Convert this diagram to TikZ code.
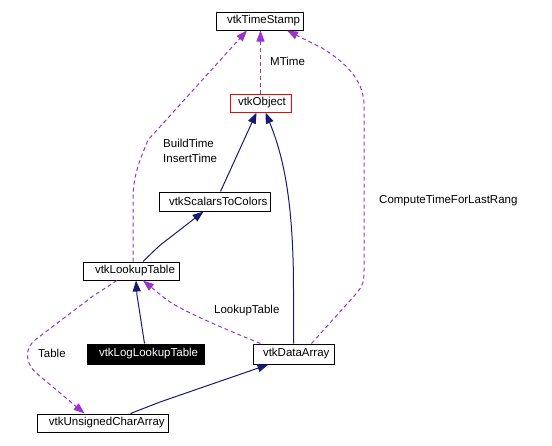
\documentclass[tikz,border=0pt]{standalone}
\usepackage{fontspec}
\setmainfont{Liberation Sans}
\usetikzlibrary{arrows.meta,calc}
\definecolor{navy}{HTML}{191970}
\definecolor{purp}{HTML}{9A32CD}
\begin{document}
\begin{tikzpicture}[x=1pt,y=-1pt,
  cls/.style={draw, line width=1pt, inner sep=0pt, minimum height=18pt, align=left, font=\fontsize{11.5}{13}\selectfont},
  lbl/.style={font=\fontsize{11.5}{13}\selectfont, inner sep=0pt, anchor=west},
  inh/.style={draw=navy, line width=1pt, -{Triangle[length=11pt,width=8pt]}},
  usedep/.style={draw=purp, line width=1pt, dash pattern=on 4pt off 3pt, -{Triangle[length=11pt,width=8pt]}}]
\useasboundingbox (0,0) rectangle (552,445);
\node[cls, text width=87pt] (ts) at (259.5,21) {\hspace*{11pt}vtkTimeStamp};
\node[cls, draw=red, text width=61pt] (obj) at (260.5,103) {\hspace*{8pt}vtkObject};
\node[cls, text width=111pt, minimum height=19pt] (stc) at (214.5,201.5) {\hspace*{10pt}vtkScalarsToColors};
\node[cls, text width=96pt] (lut) at (131,271) {\hspace*{12pt}vtkLookupTable};
\node[cls, fill=black, text=white, text width=117pt, minimum height=20pt] (llt) at (145.5,354) {\hspace*{12pt}vtkLogLookupTable};
\node[cls, text width=81pt, minimum height=20pt] (da) at (293.5,354) {\hspace*{10pt}vtkDataArray};
\node[cls, text width=131pt] (uca) at (102.5,423) {\hspace*{12pt}vtkUnsignedCharArray};

% labels
\node[lbl] (lmt) at (270,61) {MTime};
\node[lbl] (lbt) at (163,143) {BuildTime};
\node[lbl] (lit) at (163,158) {InsertTime};
\node[lbl] (lct) at (379,201) {ComputeTimeForLastRang};
\node[lbl] (llk) at (214,311) {LookupTable};
\node[lbl] (ltb) at (38,353) {Table};

% usage (dashed)
\draw[usedep] (obj.north) -- (obj.north |- ts.south);
\draw[usedep] ($(lut.north)+(2,0)$) -- (133,200) .. controls (133,175) and (140,160) .. (148,140) -- ($(ts.south)+(-12.5,0)$);
\draw[usedep] ($(da.north)+(18,0)$) -- (355,295) .. controls (364,285) and (364,280) .. (364,270) -- (364,105) .. controls (364,80) and (345,62) .. (322,48) -- ($(ts.south)+(27.5,0)$);
\draw[usedep] ($(da.north)+(-33,0)$) -- (235,333) .. controls (195,316) and (172,305) .. (162,296) -- ($(lut.south)+(12,0)$);
\draw[usedep] ($(lut.south)+(-14,0)$) -- (93,296) -- (35,340) .. controls (25,348) and (25,362) .. (35,372) -- ($(uca.north)+(-18,0)$);

% inheritance (solid)
\draw[inh] ($(stc.north)+(6,0)$) -- ($(obj.south)+(-4,0)$);
\draw[inh] (da.north) -- (293.5,290) .. controls (293.5,200) and (283,155) .. ($(obj.south)+(5,0)$);
\draw[inh] ($(lut.north)+(12,0)$) .. controls (160,245) .. (172,236) -- ($(stc.south)+(-11,0)$);
\draw[inh] ($(llt.north)+(-1,0)$) -- (137,295) -- ($(lut.south)+(5,0)$);
\draw[inh] ($(uca.north)+(28,0)$) -- (160,402) -- ($(da.south)+(-25,0)$);
\end{tikzpicture}
\end{document}
